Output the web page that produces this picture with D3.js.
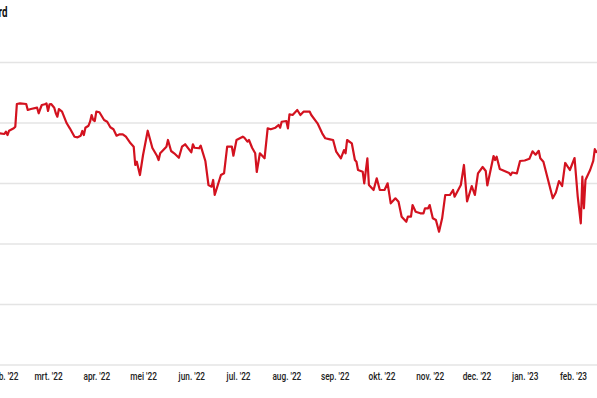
<!DOCTYPE html>
<html>
<head>
<meta charset="utf-8">
<script src="https://cdn.jsdelivr.net/npm/d3@7/dist/d3.min.js"></script>
<style>
  html, body { margin: 0; padding: 0; background: #fff; }
  svg { display: block; }
</style>
</head>
<body>
<div id="chart"></div>
<script>
// Koersverloop
const dates = [
  '2022-01-29','2022-02-01','2022-02-02','2022-02-03','2022-02-04','2022-02-07','2022-02-08','2022-02-09',
  '2022-02-11','2022-02-15','2022-02-16','2022-02-18','2022-02-22','2022-02-23','2022-02-24','2022-02-25',
  '2022-02-27','2022-02-28','2022-03-01','2022-03-02','2022-03-03','2022-03-05','2022-03-06','2022-03-07',
  '2022-03-08','2022-03-10','2022-03-13','2022-03-15','2022-03-18','2022-03-20','2022-03-22','2022-03-23',
  '2022-03-24','2022-03-25','2022-03-27','2022-03-28','2022-03-29','2022-03-30','2022-03-31','2022-04-01',
  '2022-04-03','2022-04-06','2022-04-08','2022-04-10','2022-04-12','2022-04-14','2022-04-16','2022-04-18',
  '2022-04-20','2022-04-23','2022-04-25','2022-04-26','2022-04-27','2022-04-29','2022-05-01','2022-05-04',
  '2022-05-07','2022-05-10','2022-05-11','2022-05-12','2022-05-16','2022-05-17','2022-05-19','2022-05-21',
  '2022-05-24','2022-05-26','2022-05-28','2022-06-01','2022-06-02','2022-06-03','2022-06-06','2022-06-07',
  '2022-06-10','2022-06-12','2022-06-14','2022-06-15','2022-06-16','2022-06-18','2022-06-20','2022-06-22',
  '2022-06-24','2022-06-27','2022-06-28','2022-06-30','2022-07-04','2022-07-05','2022-07-07','2022-07-08',
  '2022-07-10','2022-07-12','2022-07-13','2022-07-15','2022-07-18','2022-07-20','2022-07-22','2022-07-25',
  '2022-07-27','2022-07-28','2022-07-29','2022-08-01','2022-08-02','2022-08-03','2022-08-05','2022-08-08',
  '2022-08-10','2022-08-12','2022-08-16','2022-08-17','2022-08-21','2022-08-24','2022-08-26','2022-08-29',
  '2022-08-31','2022-09-02','2022-09-05','2022-09-07','2022-09-08','2022-09-09','2022-09-12','2022-09-14',
  '2022-09-15','2022-09-16','2022-09-19','2022-09-20','2022-09-22','2022-09-23','2022-09-26','2022-09-28',
  '2022-09-30','2022-10-03','2022-10-05','2022-10-07','2022-10-10','2022-10-12','2022-10-14','2022-10-17',
  '2022-10-18','2022-10-20','2022-10-21','2022-10-23','2022-10-26','2022-10-28','2022-10-29','2022-10-31',
  '2022-11-01','2022-11-03','2022-11-05','2022-11-07','2022-11-09','2022-11-11','2022-11-14','2022-11-16',
  '2022-11-17','2022-11-21','2022-11-23','2022-11-25','2022-11-28','2022-11-30','2022-12-02','2022-12-05',
  '2022-12-07','2022-12-08','2022-12-12','2022-12-13','2022-12-14','2022-12-16','2022-12-22','2022-12-23',
  '2022-12-24','2022-12-27','2022-12-29','2023-01-01','2023-01-04','2023-01-06','2023-01-08','2023-01-10',
  '2023-01-11','2023-01-13','2023-01-16','2023-01-19','2023-01-21','2023-01-23','2023-01-25','2023-01-27',
  '2023-01-30','2023-02-02','2023-02-04','2023-02-06','2023-02-07','2023-02-08','2023-02-09','2023-02-12',
  '2023-02-14','2023-02-15','2023-02-16','2023-02-18'
]
const values = [
  38.21,38.10,38.48,37.93,38.64,39.04,39.31,43.06,
  43.17,43.06,42.07,42.23,42.45,41.52,42.23,42.89,
  43.01,43.17,41.90,43.01,43.06,42.45,41.52,40.96,
  42.23,41.79,39.87,39.04,37.65,37.55,37.82,38.60,
  37.93,39.14,39.47,40.13,41.24,40.41,40.25,41.79,
  41.69,40.41,40.13,39.21,38.88,37.82,38.05,38.05,
  37.65,36.56,36.00,32.98,33.52,31.32,34.63,38.64,
  35.79,34.46,33.80,34.91,36.00,37.11,35.29,34.91,
  34.18,36.00,36.40,35.07,36.40,35.83,35.74,36.17,
  33.64,29.67,29.39,30.50,28.02,29.67,31.32,31.60,
  36.00,36.03,34.51,37.11,37.65,37.49,36.83,37.11,
  35.83,34.91,31.82,34.91,34.08,39.04,38.88,39.14,
  39.59,39.14,40.13,40.25,39.04,41.36,41.24,42.07,
  41.24,41.79,41.79,41.24,39.87,38.21,37.39,37.22,
  37.11,35.17,34.08,35.45,34.91,37.11,36.56,33.80,
  33.52,32.15,31.87,29.95,34.08,29.67,28.84,30.78,
  28.84,28.84,29.95,26.64,27.47,26.91,24.43,23.60,
  24.43,24.43,26.36,25.26,24.99,24.99,25.82,25.82,
  26.36,24.17,23.88,21.95,24.17,28.02,28.02,28.84,
  27.74,29.67,32.98,26.94,29.50,28.02,31.60,32.64,
  31.98,29.59,34.46,33.80,34.35,32.31,31.65,31.32,
  31.74,31.60,33.64,33.72,34.00,35.24,34.68,35.32,
  34.08,33.52,30.50,27.47,28.43,30.33,29.50,33.31,
  32.15,34.13,27.85,23.34,31.04,25.82,30.50,32.15,
  33.64,35.59,35.12,35.30
]
const yTicks = [0, 10, 20, 30, 40, 50]
const tickDates = [
  '2022-02-01','2022-03-01','2022-04-01','2022-05-01','2022-06-01','2022-07-01','2022-08-01',
  '2022-09-01','2022-10-01','2022-11-01','2022-12-01','2023-01-01','2023-02-01'
]
const tickLabels = [
  "feb. '22","mrt. '22","apr. '22","mei '22","jun. '22","jul. '22","aug. '22",
  "sep. '22","okt. '22","nov. '22","dec. '22","jan. '23","feb. '23"
]
const title = 'Beurswaarde in miljard'

const width = 597
const height = 398
const parse = d3.utcParse('%Y-%m-%d')
const data = dates.map((d, i) => ({ date: parse(d), value: values[i] }))

const svg = d3.select('#chart').append('svg')
  .attr('width', width)
  .attr('height', height)

const x = d3.scaleUtc()
  .domain([parse('2022-02-01'), parse('2023-02-01')])
  .range([4.4, 573])
const y = d3.scaleLinear().domain([0, 50]).range([364.5, 62])

const font = "Roboto, 'DejaVu Sans', sans-serif"

// no condensed font available: squeeze glyphs horizontally
function condense(sel, k) {
  sel.each(function () {
    const w = this.getComputedTextLength()
    d3.select(this).attr('textLength', w * k).attr('lengthAdjust', 'spacingAndGlyphs')
  })
}

// title (left part falls outside the crop)
svg.append('text')
  .attr('x', 7.5)
  .attr('y', 16.5)
  .attr('text-anchor', 'end')
  .attr('font-family', font)
  .attr('font-weight', 700)
  .attr('font-size', 14)
  .attr('fill', '#111')
  .text(title)
  .call(condense, 0.7)

// horizontal gridlines
const yAxis = d3.axisLeft(y).tickValues(yTicks).tickSize(-width).tickFormat('')
const gy = svg.append('g').attr('transform', `translate(${width},0)`).call(yAxis)
gy.select('.domain').remove()
gy.selectAll('line')
  .attr('transform', `translate(${-width},0)`)
  .attr('x2', width)
  .attr('stroke', '#e4e4e4')
  .attr('stroke-width', 1.5)

// x axis labels
const xAxis = d3.axisBottom(x)
  .tickValues(tickDates.map(parse))
  .tickSize(0)
  .tickPadding(0)
  .tickFormat((d, i) => tickLabels[i])
const gx = svg.append('g').attr('transform', 'translate(0,372)').call(xAxis)
gx.select('.domain').remove()
gx.selectAll('text')
  .attr('dy', '0.71em')
  .attr('font-family', font)
  .attr('font-weight', 500)
  .attr('font-size', 11.5)
  .attr('fill', '#222')
  .call(condense, 0.72)

// line
const line = d3.line().x(d => x(d.date)).y(d => y(d.value))
svg.append('path')
  .datum(data)
  .attr('fill', 'none')
  .attr('stroke', '#d3121f')
  .attr('stroke-width', 2.2)
  .attr('stroke-linejoin', 'round')
  .attr('d', line)
</script>
</body>
</html>
